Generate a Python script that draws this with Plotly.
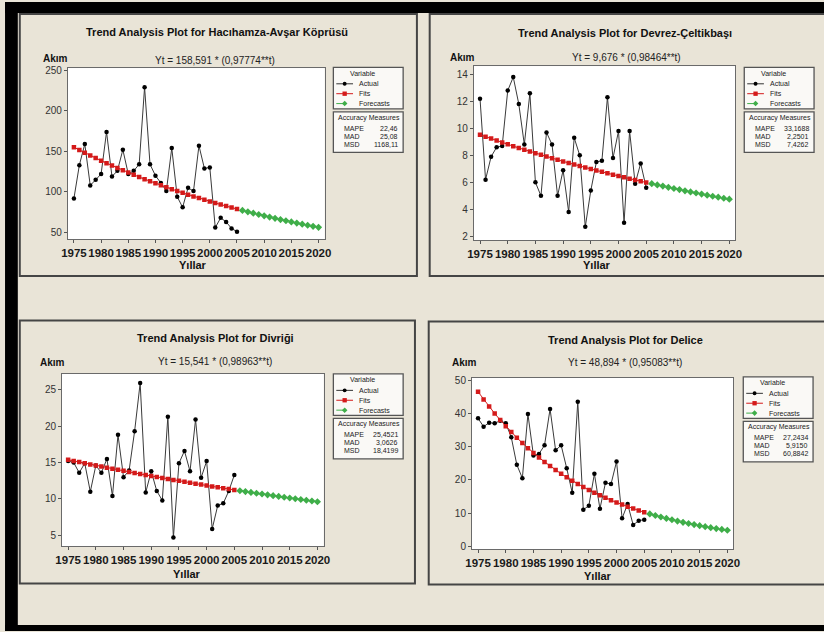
import plotly.graph_objects as go

W, H = 824, 632

# ---------------- data ----------------
years = list(range(1975, 2006))
forecast_years = list(range(2006, 2021))
x_ticks = list(range(1975, 2021, 5))

hac_actual = [92, 133, 159, 108, 115, 122, 174, 119, 126, 152, 122, 126, 134, 229, 134, 120,
              111, 101, 154, 94, 81, 105, 101, 157, 129, 130, 56, 68, 63, 55, 51]
hac_fits = [155.06, 151.61, 148.23, 144.93, 141.71, 138.55, 135.47, 132.45, 129.50, 126.62,
            123.80, 121.04, 118.35, 115.71, 113.14, 110.62, 108.16, 105.75, 103.39, 101.09,
            98.84, 96.64, 94.49, 92.38, 90.33, 88.32, 86.35, 84.43, 82.55, 80.71, 78.91]
hac_fc = [77.16, 75.44, 73.76, 72.12, 70.51, 68.94, 67.41, 65.91, 64.44, 63.00, 61.60, 60.23,
          58.89, 57.58, 56.29]

dev_actual = [12.2, 6.2, 7.9, 8.6, 8.7, 12.8, 13.8, 11.8, 8.8, 12.6, 6.0, 5.0, 9.7, 8.8, 5.0,
              6.9, 3.8, 9.3, 8.0, 2.7, 5.4, 7.5, 7.6, 12.3, 7.8, 9.8, 3.0, 9.8, 5.9, 7.4, 5.6]
dev_fits = [9.53, 9.38, 9.24, 9.10, 8.96, 8.82, 8.68, 8.55, 8.42, 8.29, 8.16, 8.04, 7.91, 7.79,
            7.67, 7.55, 7.44, 7.32, 7.21, 7.10, 6.99, 6.88, 6.78, 6.67, 6.57, 6.47, 6.37, 6.27,
            6.18, 6.08, 5.99]
dev_fc = [5.90, 5.81, 5.72, 5.63, 5.54, 5.46, 5.37, 5.29, 5.21, 5.13, 5.05, 4.97, 4.90, 4.82, 4.75]

div_actual = [15.2, 15.0, 13.6, 14.9, 11.0, 14.6, 13.6, 15.5, 10.4, 18.8, 13.0, 13.9, 19.3, 25.9,
              10.9, 13.8, 11.1, 9.8, 21.3, 4.7, 14.9, 16.6, 13.8, 20.9, 12.9, 15.2, 5.9, 9.1,
              9.4, 11.1, 13.3]
div_fits = [15.38, 15.22, 15.06, 14.91, 14.75, 14.60, 14.45, 14.30, 14.15, 14.00, 13.86, 13.71,
            13.57, 13.43, 13.29, 13.15, 13.02, 12.88, 12.75, 12.62, 12.49, 12.36, 12.23, 12.10,
            11.98, 11.85, 11.73, 11.61, 11.49, 11.37, 11.25]
div_fc = [11.13, 11.02, 10.90, 10.79, 10.68, 10.57, 10.46, 10.35, 10.24, 10.14, 10.03, 9.93,
          9.83, 9.72, 9.62]

del_actual = [38.5, 36.0, 37.2, 37.0, 37.8, 37.0, 32.8, 24.5, 20.5, 39.8, 27.3, 27.8, 30.4, 41.3,
              28.9, 30.4, 23.5, 16.1, 43.5, 11.0, 12.2, 21.8, 11.3, 19.1, 18.7, 25.5, 8.4, 12.7,
              6.4, 7.7, 8.0]
del_fits = [46.49, 44.20, 42.03, 39.96, 38.00, 36.13, 34.35, 32.67, 31.06, 29.53, 28.08, 26.70,
            25.39, 24.14, 22.95, 21.82, 20.75, 19.73, 18.76, 17.84, 16.96, 16.13, 15.33, 14.58,
            13.86, 13.18, 12.53, 11.92, 11.33, 10.77, 10.24]
del_fc = [9.74, 9.26, 8.81, 8.37, 7.96, 7.57, 7.20, 6.84, 6.51, 6.19, 5.88, 5.59, 5.32, 5.06, 4.81]

titles = ["Trend Analysis Plot for Hacıhamza-Avşar Köprüsü",
          "Trend Analysis Plot for Devrez-Çeltikbaşı",
          "Trend Analysis Plot for Divriği",
          "Trend Analysis Plot for Delice"]
equations = ["Yt = 158,591 * (0,97774**t)",
             "Yt = 9,676 * (0,98464**t)",
             "Yt = 15,541 * (0,98963**t)",
             "Yt = 48,894 * (0,95083**t)"]
measure_names = ["MAPE", "MAD", "MSD"]
measures = [["22,46", "25,08", "1168,11"],
            ["33,1688", "2,2501", "7,4262"],
            ["25,4521", "3,0626", "18,4199"],
            ["27,2434", "5,9150", "60,8842"]]
y_ticks = [[50, 100, 150, 200, 250],
           [2, 4, 6, 8, 10, 12, 14],
           [5, 10, 15, 20, 25],
           [0, 10, 20, 30, 40, 50]]
y_ranges = [[41.5, 252.4], [1.7, 14.6], [3.56, 27.17], [-0.8, 50.7]]
series = [(hac_actual, hac_fits, hac_fc), (dev_actual, dev_fits, dev_fc),
          (div_actual, div_fits, div_fc), (del_actual, del_fits, del_fc)]

# ---------------- layout geometry (pixels) ----------------
plot_boxes = [(62, 65, 323, 238), (475, 63, 741, 239), (56, 374, 322, 548), (473, 378, 739, 551)]
panels = [(13, 10, 417, 275), (430, 10, 860, 275), (13, 320, 415, 586), (429, 321, 860, 587)]
title_pos = [(214, 28), (629, 29), (212, 338), (629, 340)]
eq_pos = [(212, 57), (630, 54), (212, 362), (629, 363)]
akim_pos = [(35, 55), (449, 54), (32, 363), (451, 363)]
yil_pos = [(189, 264), (600, 264), (183, 576), (601, 578)]
legend_pos = [(332, 64), (750, 64), (332, 374), (749, 377)]

FONT = "Liberation Sans, Arial, sans-serif"
BEIGE = "#E9E4D7"
RED = "#D41A1A"
GREEN = "#3FAE49"


def px(x):
    return x / W


def py(y):
    return 1 - y / H


fig = go.Figure()
shapes = []
annotations = []

# black frame strips (left, top, bottom)
for (a, b, c, d) in [(-2, -2, 11, H + 2), (-2, -2, W + 40, 9), (-2, 628, W + 40, H + 2)]:
    shapes.append(dict(type="rect", xref="paper", yref="paper", x0=px(a), x1=px(c),
                       y0=py(d), y1=py(b), fillcolor="black", line=dict(width=0),
                       layer="below"))
for (x0, y0, x1, y1) in panels:
    shapes.append(dict(type="rect", xref="paper", yref="paper", x0=px(x0), x1=px(x1),
                       y0=py(y1), y1=py(y0), line=dict(color="#454545", width=2), layer="below"))


def txt(text, x, y, size, bold=False, anchor="center", color="#111"):
    annotations.append(dict(text=text, x=px(x), y=py(y), xref="paper", yref="paper",
                            showarrow=False, xanchor=anchor, yanchor="middle",
                            font=dict(family=FONT, size=size, color=color,
                                      weight="bold" if bold else "normal")))


for i in range(4):
    act, fit, fc = series[i]
    ax = "" if i == 0 else str(i + 1)
    xa, ya = "x" + ax, "y" + ax
    x0, y0, x1, y1 = plot_boxes[i]
    fig.add_trace(go.Scatter(x=years, y=act, mode="lines+markers", xaxis=xa, yaxis=ya,
                             line=dict(color="#3a3a3a", width=1),
                             marker=dict(color="black", size=4.5, symbol="circle"),
                             showlegend=False))
    fig.add_trace(go.Scatter(x=years, y=fit, mode="lines+markers", xaxis=xa, yaxis=ya,
                             line=dict(color=RED, width=1),
                             marker=dict(color=RED, size=4.5, symbol="square"),
                             showlegend=False))
    fig.add_trace(go.Scatter(x=forecast_years, y=fc, mode="lines+markers", xaxis=xa, yaxis=ya,
                             line=dict(color=GREEN, width=1, dash="dash"),
                             marker=dict(color=GREEN, size=5.5, symbol="diamond"),
                             showlegend=False))
    axis_common = dict(showline=True, mirror=True, linecolor="#6a6a6a", linewidth=1,
                       ticks="outside", ticklen=3, tickcolor="#555", showgrid=False,
                       zeroline=False, fixedrange=True)
    fig.update_layout(**{
        "xaxis" + ax: dict(domain=[px(x0), px(x1)], anchor=ya, range=[1973.9, 2021.1],
                           tickvals=x_ticks, tickangle=0,
                           tickfont=dict(family=FONT, size=11.5, color="#1a1a1a", weight="bold"),
                           **axis_common),
        "yaxis" + ax: dict(domain=[py(y1), py(y0)], anchor=xa, range=y_ranges[i],
                           tickvals=y_ticks[i],
                           tickfont=dict(family=FONT, size=10, color="#333"),
                           **axis_common),
    })
    # plot area white background
    shapes.append(dict(type="rect", xref="paper", yref="paper", x0=px(x0), x1=px(x1),
                       y0=py(y1), y1=py(y0), fillcolor="white", line=dict(width=0),
                       layer="below"))

    txt(titles[i], *title_pos[i], 11, bold=True)
    txt(equations[i], *eq_pos[i], 10, color="#222")
    txt("Akım", *akim_pos[i], 10, bold=True, anchor="left")
    txt("Yıllar", *yil_pos[i], 11, bold=True)

    # legend boxes
    L, T = legend_pos[i]
    shapes.append(dict(type="rect", xref="paper", yref="paper", x0=px(L), x1=px(L + 71),
                       y0=py(T + 42), y1=py(T), fillcolor="#FAF9F6",
                       line=dict(color="#555", width=1.3)))
    txt("Variable", L + 30, T + 6, 7, color="#222")
    keys = [("Actual", "black", "#333", "solid", "circle"),
            ("Fits", RED, RED, "solid", "square"),
            ("Forecasts", GREEN, GREEN, "dash", "diamond")]
    for k, (lab, mc, lc, dash, sym) in enumerate(keys):
        yy = T + 16.7 + 10 * k
        shapes.append(dict(type="line", xref="paper", yref="paper", x0=px(L + 3), x1=px(L + 20),
                           y0=py(yy), y1=py(yy), line=dict(color=lc, width=1, dash=dash)))
        cx = L + 11.5
        if sym == "circle":
            shapes.append(dict(type="circle", xref="paper", yref="paper", x0=px(cx - 2),
                               x1=px(cx + 2), y0=py(yy + 2), y1=py(yy - 2), fillcolor=mc,
                               line=dict(width=0)))
        elif sym == "square":
            shapes.append(dict(type="rect", xref="paper", yref="paper", x0=px(cx - 2.2),
                               x1=px(cx + 2.2), y0=py(yy + 2.2), y1=py(yy - 2.2), fillcolor=mc,
                               line=dict(width=0)))
        else:
            path = "M {} {} L {} {} L {} {} L {} {} Z".format(
                px(cx), py(yy - 2.8), px(cx + 2.8), py(yy), px(cx), py(yy + 2.8),
                px(cx - 2.8), py(yy))
            shapes.append(dict(type="path", xref="paper", yref="paper", path=path,
                               fillcolor=mc, line=dict(width=0)))
        txt(lab, L + 24, yy, 7, anchor="left", color="#222")
    T2 = T + 45
    shapes.append(dict(type="rect", xref="paper", yref="paper", x0=px(L), x1=px(L + 71),
                       y0=py(T2 + 41), y1=py(T2), fillcolor="#FAF9F6",
                       line=dict(color="#555", width=1.3)))
    txt("Accuracy Measures", L + 36.5, T2 + 6, 7, color="#222")
    for k in range(3):
        yy = T2 + 16.7 + 8 * k
        txt(measure_names[k], L + 9, yy, 7, anchor="left", color="#222")
        txt(measures[i][k], L + 68, yy, 7, anchor="right", color="#222")

fig.update_layout(width=W, height=H, margin=dict(l=0, r=0, t=0, b=0),
                  paper_bgcolor=BEIGE, plot_bgcolor="white",
                  shapes=shapes, annotations=annotations, showlegend=False)

fig.write_html("out.html", config={"displayModeBar": False},
               post_script="document.body.style.margin='0';"
                           "document.body.style.background='" + BEIGE + "';"
                           "document.documentElement.style.overflow='hidden';")
